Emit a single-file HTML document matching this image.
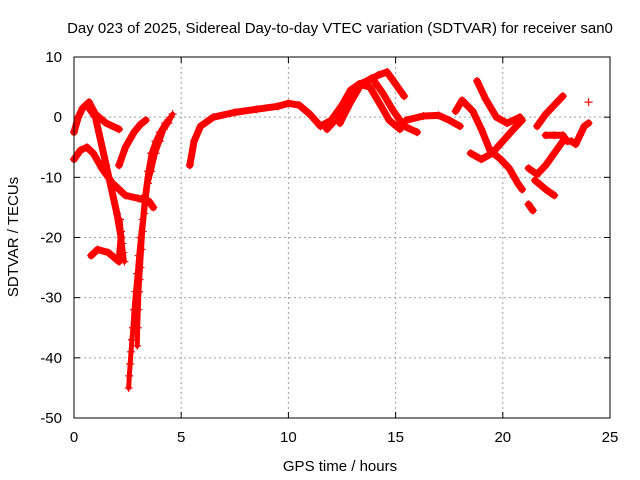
<!DOCTYPE html>
<html><head><meta charset="utf-8"><style>
body{margin:0;background:#fff}
svg{display:block;font-family:"Liberation Sans",sans-serif}
</style></head><body>
<svg id="chart" width="640" height="480" viewBox="0 0 640 480">
<rect width="640" height="480" fill="#fff"/>
<text x="340" y="33" text-anchor="middle" font-size="15">Day 023 of 2025, Sidereal Day-to-day VTEC variation (SDTVAR) for receiver san0</text>
<text x="340" y="471" text-anchor="middle" font-size="15">GPS time / hours</text>
<text transform="translate(18,237) rotate(-90)" text-anchor="middle" font-size="15">SDTVAR / TECUs</text>
<g id="grid"></g><g id="ticks"></g><g id="marks"></g>
<rect x="74" y="57" width="536" height="361" fill="none" stroke="#000" stroke-width="1"/>
</svg>
<script>
const xTicks=[0,5,10,15,20,25];
const yTicks=[10,0,-10,-20,-30,-40,-50];
const trackA_t=[0.6,1.0,1.5,2.0,2.2,2.1,1.6,1.1,0.8];
const trackA_v=[2,0,-8,-16,-20,-24,-22.5,-22,-23];
const trackB_t=[0,0.2,0.4,0.7,1.0,1.5,2.1];
const trackB_v=[-2.5,0,1.5,2.5,0.5,-1,-2];
const trackC_t=[0,0.3,0.6,0.9,1.3,1.8,2.4,3.0,3.5,3.7];
const trackC_v=[-7,-5.5,-5,-6,-8.5,-11,-13,-13.5,-14,-15];
const trackC2_t=[2.15,2.2,2.25,2.3,2.35];
const trackC2_v=[-17,-19,-21,-22.5,-24];
const trackD1_t=[2.55,2.58,2.62,2.66,2.7,2.75,2.8,2.87,2.95,3.02,3.1,3.2,3.3,3.45,3.6,3.8,4.0,4.25,4.5];
const trackD1_v=[-45,-43,-41,-39,-37,-35,-32,-29,-26,-23,-20,-17,-13,-9,-6,-4,-2.5,-1,0];
const trackD2_t=[2.95,2.97,3.0,3.03,3.06,3.1,3.15,3.2,3.28,3.35,3.45,3.6,3.8,4.0,4.2,4.4,4.6];
const trackD2_v=[-38,-35,-32,-29,-27,-25,-22,-19,-16,-14,-11,-9,-6,-4,-2,-1,0.5];
const trackE_t=[2.1,2.4,2.8,3.1,3.35];
const trackE_v=[-8,-5,-2.5,-1.2,-0.5];
const trackF_t=[5.4,5.6,5.9,6.5,7.5,8.5,9.5,10.0,10.5,11.0,11.5,12.0,12.5,12.9,13.3,13.7,14.2,14.6,15.0,15.4];
const trackF_v=[-8,-4,-1.5,0,0.8,1.3,1.8,2.3,2,0.5,-1.5,-0.5,2,4.5,5.5,6,7,7.5,5.5,3.5];
const trackG_t=[11.8,12.3,12.8,13.3,13.8,14.3,14.7,15.2];
const trackG_v=[-2,0,3,5.5,5,2,-0.5,-2];
const trackH_t=[12.4,12.9,13.4,13.9,14.4,14.9,15.4,16.0];
const trackH_v=[-1,2.5,5.5,6.5,4,1,-1.5,-2.5];
const trackI_t=[15.5,16.3,17.0,17.5,18.0];
const trackI_v=[-0.5,0.2,0.3,-0.5,-1.5];
const trackJ_t=[17.8,18.1,18.6,19.0,19.4,19.9,20.3,20.7,20.9];
const trackJ_v=[1,2.8,1,-2,-5.5,-7,-8.5,-11,-12];
const trackK_t=[18.8,19.2,19.7,20.2,20.8];
const trackK_v=[6,3,0,-1,0];
const trackL_t=[18.5,19.0,19.5,20.0,20.5,20.9];
const trackL_v=[-6,-7,-6,-4,-2,-0.5];
const trackM_t=[21.2,21.4];
const trackM_v=[-14.5,-15.5];
const trackN_t=[21.2,21.6,22.0,22.4,22.8];
const trackN_v=[-8.5,-9.5,-8,-6,-4];
const trackO_t=[21.6,22.0,22.4,22.8];
const trackO_v=[-1.5,0.5,2,3.5];
const trackP_t=[21.5,22.0,22.4];
const trackP_v=[-10.5,-12,-13];
const trackQ_t=[22.0,22.4,22.8,23.0,23.2,23.4,23.6,23.8,24.0];
const trackQ_v=[-3,-3,-3,-4,-4,-4.5,-3,-1.5,-1];
const trackR_t=[24.0];
const trackR_v=[2.5];
const tracks=[[trackA_t,trackA_v],[trackB_t,trackB_v],[trackC_t,trackC_v],[trackC2_t,trackC2_v],[trackD1_t,trackD1_v],[trackD2_t,trackD2_v],[trackE_t,trackE_v],[trackF_t,trackF_v],[trackG_t,trackG_v],[trackH_t,trackH_v],[trackI_t,trackI_v],[trackJ_t,trackJ_v],[trackK_t,trackK_v],[trackL_t,trackL_v],[trackM_t,trackM_v],[trackN_t,trackN_v],[trackO_t,trackO_v],[trackP_t,trackP_v],[trackQ_t,trackQ_v],[trackR_t,trackR_v]];
const NS='http://www.w3.org/2000/svg';
function sx(t){return 74+t*(536/25);}
function sy(v){return 57+(10-v)*(361/60);}
const grid=document.getElementById('grid'),ticks=document.getElementById('ticks'),marks=document.getElementById('marks');
function mk(tag,at,parent){const e=document.createElementNS(NS,tag);for(const k in at)e.setAttribute(k,at[k]);parent.appendChild(e);return e;}
xTicks.forEach(t=>{
  const x=sx(t);
  if(t>0&&t<25){const g=mk('line',{x1:x,y1:57,x2:x,y2:418,stroke:'#a0a0a0','stroke-dasharray':'2,3'},grid);
  
  }
  mk('line',{x1:x,y1:418,x2:x,y2:412,stroke:'#000'},ticks);mk('line',{x1:x,y1:57,x2:x,y2:63,stroke:'#000'},ticks);
  const l=mk('text',{x:x,y:442,'text-anchor':'middle','font-size':'15'},ticks);l.textContent=t;
  
  
});
yTicks.forEach(v=>{
  const y=sy(v);
  if(v<10&&v>-50){const g=mk('line',{x1:74,y1:y,x2:610,y2:y,stroke:'#a0a0a0','stroke-dasharray':'2,3'},grid);
  
  }
  mk('line',{x1:74,y1:y,x2:80,y2:y,stroke:'#000'},ticks);mk('line',{x1:610,y1:y,x2:604,y2:y,stroke:'#000'},ticks);
  const l=mk('text',{x:62,y:y+5,'text-anchor':'end','font-size':'15'},ticks);l.textContent=v;
  
  
});
tracks.forEach(([ts,vs],i)=>{
  const deep=(i===3||i===4||i===5);
  const pts=ts.map((t,j)=>sx(t)+','+sy(vs[j])).join(' ');
  const pl=mk('polyline',{points:pts,fill:'none',stroke:'#f00','stroke-width':deep?'5':'7','stroke-linejoin':'round','stroke-linecap':'round'},marks);
  
  
  ts.forEach((t,j)=>{
    const x=sx(t),y=sy(vs[j]);
    const p=mk('path',{d:`M${x-4},${y}H${x+4}M${x},${y-4}V${y+4}`,stroke:'#f00','stroke-width':'1.2'},marks);
    
    
  });
});
</script>
</body></html>
